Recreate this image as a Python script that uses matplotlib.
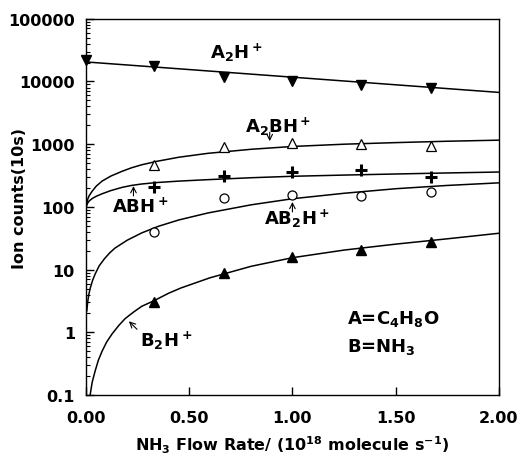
import numpy as np
import matplotlib
matplotlib.use("Agg")
import matplotlib.pyplot as plt
from matplotlib.ticker import FixedLocator, FixedFormatter, LogLocator, NullFormatter

plt.rcParams["font.family"] = ["DejaVu Sans"]
plt.rcParams["font.weight"] = "bold"
plt.rcParams["mathtext.default"] = "bf"

# measured points (NH3 flow rate, 10^18 molecule/s)
flow = [0.33, 0.67, 1.00, 1.33, 1.67]
a2h_x = [0.0, 0.33, 0.67, 1.00, 1.33, 1.67]
a2h = [21800, 17800, 11800, 10100, 8900, 7900]
a2bh = [470, 910, 1050, 1000, 920]
abh = [205, 310, 365, 390, 295]
ab2h = [40, 138, 155, 152, 175]
b2h = [3.0, 9.0, 15.8, 20.4, 27.6]

# fitted curves
a2h_fit_x = [0.0, 2.0]
a2h_fit = [20500, 6700]
a2bh_fit_x = [0.0, 0.003, 0.008, 0.015, 0.03, 0.05, 0.078, 0.12, 0.175, 0.22, 0.27, 0.345,
              0.45, 0.59, 0.8, 1.0, 1.25, 1.5, 1.75, 2.0]
a2bh_fit = [95, 112, 132, 150, 178, 215, 258, 310, 370, 420, 470, 535,
            620, 715, 830, 920, 1000, 1060, 1115, 1160]
abh_fit_x = [0.0, 0.003, 0.008, 0.015, 0.03, 0.05, 0.078, 0.12, 0.175, 0.22, 0.27, 0.345,
             0.45, 0.59, 0.8, 1.0, 1.25, 1.5, 1.75, 2.0]
abh_fit = [95, 105, 115, 124, 136, 148, 162, 182, 205, 220, 232, 245,
           258, 272, 292, 308, 322, 335, 348, 360]
ab2h_fit_x = [0.004, 0.008, 0.013, 0.02, 0.033, 0.045, 0.064, 0.09, 0.115, 0.14, 0.2, 0.27,
              0.35, 0.45, 0.59, 0.8, 1.0, 1.25, 1.5, 1.75, 2.0]
ab2h_fit = [2.2, 3.0, 3.9, 5.0, 6.9, 8.6, 11.5, 15, 18.5, 22, 29.5, 38.5,
            49, 62, 80, 108, 135, 165, 195, 220, 242]
b2h_fit_x = [0.02, 0.03, 0.044, 0.06, 0.078, 0.1, 0.127, 0.16, 0.19, 0.23, 0.27, 0.33,
             0.4, 0.46, 0.6, 0.8, 1.0, 1.25, 1.5, 1.75, 2.0]
b2h_fit = [0.1, 0.16, 0.24, 0.36, 0.5, 0.7, 0.95, 1.3, 1.66, 2.1, 2.6, 3.2,
           4.2, 5.1, 7.4, 11.3, 15.5, 20.5, 25.5, 31, 38]

y_ticks = [0.1, 1, 10, 100, 1000, 10000, 100000]
y_labels = ["0.1", "1", "10", "100", "1000", "10000", "100000"]
x_ticks = [0.0, 0.5, 1.0, 1.5, 2.0]
x_labels = ["0.00", "0.50", "1.00", "1.50", "2.00"]

fig = plt.figure(figsize=(5.18, 4.6), dpi=100)
ax = fig.add_axes([0.166, 0.139, 0.797, 0.818])

lc = "black"
for fx, fy in [(a2h_fit_x, a2h_fit), (a2bh_fit_x, a2bh_fit), (abh_fit_x, abh_fit),
               (ab2h_fit_x, ab2h_fit), (b2h_fit_x, b2h_fit)]:
    ax.plot(fx, fy, color=lc, lw=1.1, solid_joinstyle="round")

ax.plot(a2h_x, a2h, "v", color="black", ms=7, clip_on=False)
ax.plot(flow, a2bh, "^", mfc="white", mec="black", mew=0.9, ms=7)
ax.plot(flow, abh, "+", color="black", ms=8, mew=2.2)
ax.plot(flow, ab2h, "o", mfc="white", mec="black", mew=0.9, ms=6.5)
ax.plot(flow, b2h, "^", color="black", ms=7)

ax.set_yscale("log")
ax.set_ylim(0.1, 100000)
ax.set_xlim(0, 2.0)
ax.yaxis.set_major_locator(FixedLocator(y_ticks))
ax.yaxis.set_major_formatter(FixedFormatter(y_labels))
ax.yaxis.set_minor_locator(LogLocator(base=10, subs=np.arange(2, 10)))
ax.yaxis.set_minor_formatter(NullFormatter())
ax.xaxis.set_major_locator(FixedLocator(x_ticks))
ax.xaxis.set_major_formatter(FixedFormatter(x_labels))

ax.tick_params(axis="both", which="major", direction="in", length=6, width=1,
               labelsize=11.5, pad=8)
ax.tick_params(axis="x", which="major", pad=11)
ax.tick_params(axis="y", which="minor", direction="in", length=3, width=0.8)
for lab in ax.get_xticklabels() + ax.get_yticklabels():
    lab.set_fontweight("bold")
for s in ax.spines.values():
    s.set_linewidth(1.0)

ax.set_ylabel("Ion counts(10s)", fontsize=11.5, fontweight="bold")
ax.yaxis.set_label_coords(-0.143, 0.525)
ax.set_xlabel(r"NH$_3$ Flow Rate/ (10$^{18}$ molecule s$^{-1}$)",
              fontsize=11.5, fontweight="bold", labelpad=6)

tk = dict(fontsize=13, fontweight="bold", ha="left", va="baseline")
ax.text(0.60, 24000, r"A$_2$H$^+$", **tk)
ax.text(0.77, 1610, r"A$_2$BH$^+$", **tk)
ax.text(0.126, 83, r"ABH$^+$", **tk)
ax.text(0.86, 54, r"AB$_2$H$^+$", **tk)
ax.text(0.26, 0.62, r"B$_2$H$^+$", **tk)
ax.text(1.264, 1.39, r"A=C$_4$H$_8$O", **tk)
ax.text(1.264, 0.50, r"B=NH$_3$", **tk)

ap = dict(arrowstyle="->", lw=0.8, color="black", shrinkA=0, shrinkB=0)
ax.annotate("", xy=(0.89, 1120), xytext=(0.89, 1550), arrowprops=ap)
ax.annotate("", xy=(0.23, 215), xytext=(0.23, 150), arrowprops=ap)
ax.annotate("", xy=(1.0, 120), xytext=(1.0, 83), arrowprops=ap)
ax.annotate("", xy=(0.208, 1.5), xytext=(0.247, 1.12), arrowprops=ap)

fig.savefig("out.png", dpi=100)
